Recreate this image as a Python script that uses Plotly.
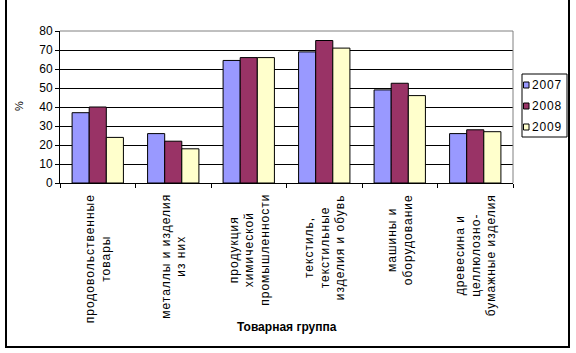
import plotly.graph_objects as go

categories = [
    "продовольственные<br>товары",
    "металлы и изделия<br>из них",
    "продукция<br>химической<br>промышленности",
    "текстиль,<br>текстильные<br>изделия и обувь",
    "машины и<br>оборудование",
    "древесина и<br>целлюлозно-<br>бумажные изделия",
]
cat_keys = ["c1", "c2", "c3", "c4", "c5", "c6"]
years = ["2007", "2008", "2009"]
values_2007 = [37, 26, 64.5, 69, 49, 26]
values_2008 = [40, 22, 66, 75, 52.5, 28]
values_2009 = [24, 18, 66, 71, 46, 27]
colors = ["#9999FF", "#993366", "#FFFFCC"]
y_ticks = [0, 10, 20, 30, 40, 50, 60, 70, 80]

W, H = 576, 353
L, R, T, B = 60, 513, 31, 183  # plot area in px


def px(xp):
    return (xp - L) / (R - L)


def py(yp):
    return (B - yp) / (B - T)


FONT = "Liberation Sans, Arial, sans-serif"


def spaced(s, ls="1px"):
    return "<br>".join(f'<span style="letter-spacing:{ls}">{part}</span>' for part in s.split("<br>"))


fig = go.Figure()
for yr, vals, col in zip(years, [values_2007, values_2008, values_2009], colors):
    fig.add_trace(go.Bar(
        x=cat_keys, y=vals, name=yr,
        marker=dict(color=col, line=dict(color="black", width=1)),
        showlegend=False,
    ))

annotations = []
for key, lab in zip(cat_keys, categories):
    annotations.append(dict(
        x=key, xref="x", y=py(192), yref="paper",
        text=spaced(lab), textangle=-90, showarrow=False,
        xanchor="center", yanchor="top", align="center",
        font=dict(family=FONT, size=12, color="black"),
    ))

# axis titles
annotations.append(dict(
    x=px(287), y=py(327), xref="paper", yref="paper",
    text="<b>Товарная группа</b>", showarrow=False,
    xanchor="center", yanchor="middle",
    font=dict(family=FONT, size=12, color="black"),
))
annotations.append(dict(
    x=px(19), y=py(106), xref="paper", yref="paper",
    text="%", textangle=-90, showarrow=False,
    xanchor="center", yanchor="middle",
    font=dict(family=FONT, size=11, color="black"),
))

shapes = []
# outer chart border
shapes.append(dict(type="rect", xref="paper", yref="paper",
                   x0=px(6), x1=px(569), y0=py(347), y1=py(-5),
                   line=dict(color="black", width=2), fillcolor="rgba(0,0,0,0)",
                   layer="above"))
# gray plot-area top & right border
shapes.append(dict(type="line", xref="paper", yref="paper",
                   x0=0, x1=1, y0=1, y1=1, line=dict(color="#808080", width=1), layer="above"))
shapes.append(dict(type="line", xref="paper", yref="paper",
                   x0=1, x1=1, y0=0, y1=1, line=dict(color="#808080", width=1), layer="above"))

# legend box
lx0, lx1, ly0, ly1 = 522, 567, 74, 137
shapes.append(dict(type="rect", xref="paper", yref="paper",
                   x0=px(lx0), x1=px(lx1), y0=py(ly1), y1=py(ly0),
                   line=dict(color="black", width=1), fillcolor="white", layer="above"))
item_y = [85, 106, 127]
for yr, col, iy in zip(years, colors, item_y):
    shapes.append(dict(type="rect", xref="paper", yref="paper",
                       x0=px(523.5), x1=px(529), y0=py(iy + 3), y1=py(iy - 3),
                       line=dict(color="black", width=1), fillcolor=col, layer="above"))
    annotations.append(dict(
        x=px(530), y=py(iy), xref="paper", yref="paper",
        text=spaced(yr, "0.8px"), showarrow=False, xanchor="left", yanchor="middle",
        font=dict(family=FONT, size=12, color="black"),
    ))

fig.update_layout(
    width=W, height=H,
    margin=dict(l=L, r=W - R, t=T, b=H - B, autoexpand=False),
    paper_bgcolor="white", plot_bgcolor="white",
    barmode="group", bargap=0.32, bargroupgap=0,
    showlegend=False,
    annotations=annotations, shapes=shapes,
    font=dict(family=FONT, size=12, color="black"),
)
fig.update_xaxes(
    type="category", categoryorder="array", categoryarray=cat_keys,
    showticklabels=False, tickson="boundaries", ticks="outside", ticklen=4,
    tickcolor="black", showline=True, linecolor="black", linewidth=1,
    showgrid=False, zeroline=False,
)
fig.update_yaxes(
    range=[0, 80], tickvals=y_ticks, ticktext=[str(v) for v in y_ticks],
    ticks="outside", ticklen=4, tickcolor="black",
    showline=True, linecolor="black", linewidth=1,
    showgrid=True, gridcolor="black", gridwidth=1, zeroline=False,
    tickfont=dict(family=FONT, size=12, color="black"),
)

fig.write_html("out.html")
